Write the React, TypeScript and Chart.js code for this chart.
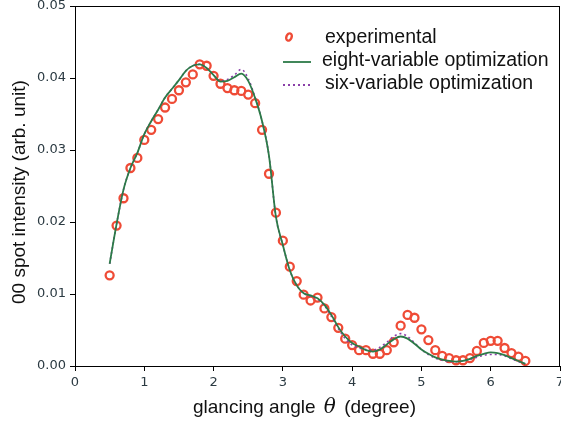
import React, { useEffect, useRef } from "react";
import { Chart, registerables } from "chart.js";

Chart.register(...registerables);

const theta = [
  0.5, 0.6, 0.7, 0.8, 0.9, 1.0, 1.1, 1.2, 1.3, 1.4, 1.5, 1.6, 1.7, 1.8, 1.9, 2.0,
  2.1, 2.2, 2.3, 2.4, 2.5, 2.6, 2.7, 2.8, 2.9, 3.0, 3.1, 3.2, 3.3, 3.4, 3.5, 3.6,
  3.7, 3.8, 3.9, 4.0, 4.1, 4.2, 4.3, 4.4, 4.5, 4.6, 4.7, 4.8, 4.9, 5.0, 5.1, 5.2,
  5.3, 5.4, 5.5, 5.6, 5.7, 5.8, 5.9, 6.0, 6.1, 6.2, 6.3, 6.4, 6.5,
];

const experimental = [
  0.0126, 0.0195, 0.0233, 0.0275, 0.0289, 0.0314, 0.0328, 0.0343, 0.0359, 0.0371,
  0.0383, 0.0394, 0.0405, 0.0419, 0.0417, 0.0403, 0.0392, 0.0386, 0.0383, 0.0382,
  0.0377, 0.0365, 0.0328, 0.0267, 0.0213, 0.0174, 0.0138, 0.0118, 0.0099, 0.0091,
  0.0095, 0.008, 0.0068, 0.0053, 0.0038, 0.0029, 0.0022, 0.0022, 0.0017, 0.0017,
  0.0022, 0.0033, 0.0056, 0.0071, 0.0067, 0.0051, 0.0036, 0.0022, 0.0014, 0.0011,
  0.0008, 0.0008, 0.0011, 0.0021, 0.0032, 0.0035, 0.0035, 0.0025, 0.0018, 0.0013,
  0.0007,
];

const eightVariable = [
  0.0142, 0.0197, 0.0245, 0.0275, 0.0296, 0.0322, 0.034, 0.0356, 0.0373, 0.0385,
  0.0397, 0.041, 0.0417, 0.0419, 0.0414, 0.0404, 0.0395, 0.0396, 0.0401, 0.0406,
  0.0396, 0.0372, 0.034, 0.0292, 0.0207, 0.0168, 0.0133, 0.0112, 0.0101, 0.0098,
  0.0094, 0.0085, 0.0071, 0.0054, 0.0041, 0.0032, 0.0027, 0.0022, 0.002, 0.0023,
  0.003, 0.0037, 0.0041, 0.0038, 0.0031, 0.0023, 0.0017, 0.0012, 0.0009, 0.0007,
  0.0006, 0.0007, 0.001, 0.0014, 0.0017, 0.0019, 0.0018, 0.0015, 0.0011, 0.0007,
  0.0003,
];

const sixVariable = [
  0.0142, 0.0197, 0.0245, 0.0275, 0.0296, 0.0322, 0.034, 0.0356, 0.0373, 0.0385,
  0.0397, 0.041, 0.0417, 0.0419, 0.0414, 0.0404, 0.0396, 0.0398, 0.0404, 0.0412,
  0.0399, 0.0373, 0.034, 0.0292, 0.0207, 0.0168, 0.0133, 0.0112, 0.0101, 0.0097,
  0.0093, 0.0084, 0.0069, 0.0052, 0.0038, 0.0029, 0.0025, 0.0023, 0.0022, 0.0026,
  0.0033, 0.0041, 0.0045, 0.0041, 0.0032, 0.0023, 0.0016, 0.0011, 0.0008, 0.0006,
  0.0006, 0.0007, 0.0009, 0.0012, 0.0015, 0.0016, 0.0016, 0.0014, 0.001, 0.0006,
  0.0003,
];

const xTickValues = [0, 1, 2, 3, 4, 5, 6, 7];
const yTickValues = [0, 0.01, 0.02, 0.03, 0.04, 0.05];

const legendLabels = ["experimental", "eight-variable optimization", "six-variable optimization"];
const xTitleParts = ["glancing angle ", "θ", " (degree)"];
const yTitle = "00 spot intensity (arb. unit)";

const RED = "#ef4b36";
const GREEN = "#2c7a48";
const PURPLE = "#8a3fa8";
const TICK_COLOR = "#2b3a42";
const SANS = "'Liberation Sans', Arial, Helvetica, sans-serif";

export default function App() {
  const ref = useRef<HTMLCanvasElement | null>(null);

  useEffect(() => {
    if (!ref.current) return;
    const toXY = (arr: number[]) => theta.map((t, i) => ({ x: t, y: arr[i] }));

    const framePlugin = {
      id: "frameAndText",
      afterDraw(chart: any) {
        const { ctx, chartArea } = chart;
        ctx.save();
        // legend box
        ctx.fillStyle = "#fff";
        ctx.fillRect(278, 24, 277, 76);
        ctx.strokeStyle = "#000";
        ctx.lineWidth = 1;
        ctx.strokeRect(chartArea.left + 0.5, chartArea.top + 0.5, chartArea.right - chartArea.left - 1, chartArea.bottom - chartArea.top);

        ctx.font = "19.5px " + SANS;
        ctx.textBaseline = "middle";
        ctx.textAlign = "left";
        // experimental marker
        ctx.beginPath();
        ctx.ellipse(289, 37, 2.6, 3.8, 0.4, 0, Math.PI * 2);
        ctx.strokeStyle = RED;
        ctx.lineWidth = 2.4;
        ctx.stroke();
        ctx.fillStyle = "#111";
        ctx.fillText(legendLabels[0], 325, 38);
        // eight-variable
        ctx.beginPath();
        ctx.moveTo(283, 62);
        ctx.lineTo(311, 62);
        ctx.strokeStyle = GREEN;
        ctx.lineWidth = 1.8;
        ctx.setLineDash([]);
        ctx.stroke();
        ctx.fillText(legendLabels[1], 322, 61);
        // six-variable
        ctx.beginPath();
        ctx.moveTo(283, 85);
        ctx.lineTo(311, 85);
        ctx.strokeStyle = PURPLE;
        ctx.lineWidth = 1.8;
        ctx.setLineDash([2, 3]);
        ctx.stroke();
        ctx.setLineDash([]);
        ctx.fillText(legendLabels[2], 325, 84);

        // x title with italic theta
        ctx.textBaseline = "alphabetic";
        ctx.fillStyle = "#111";
        const f1 = "19px " + SANS;
        const f2 = "italic 20px 'DejaVu Serif', 'Liberation Serif', serif";
        ctx.font = f1;
        const w0 = ctx.measureText(xTitleParts[0]).width;
        ctx.font = f2;
        const w1 = ctx.measureText(xTitleParts[1]).width;
        let x = 193;
        ctx.font = f1;
        ctx.fillText(xTitleParts[0], x, 413);
        x += w0 + 3;
        ctx.font = f2;
        ctx.fillText(xTitleParts[1], x, 413);
        x += w1 + 3;
        ctx.font = f1;
        ctx.fillText(xTitleParts[2], x, 413);

        // y title
        ctx.font = f1;
        ctx.textAlign = "left";
        ctx.translate(25, 304);
        ctx.rotate(-Math.PI / 2);
        ctx.fillText(yTitle, 0, 0);
        ctx.restore();
      },
    };

    const chart = new Chart(ref.current, {
      type: "scatter",
      data: {
        datasets: [
          {
            label: legendLabels[0],
            data: toXY(experimental),
            showLine: false,
            pointRadius: 4,
            pointBorderWidth: 2.3,
            pointBorderColor: RED,
            pointBackgroundColor: "rgba(0,0,0,0)",
            order: 3,
          },
          {
            label: legendLabels[1],
            data: toXY(eightVariable),
            showLine: true,
            pointRadius: 0,
            borderColor: GREEN,
            borderWidth: 1.8,
            cubicInterpolationMode: "monotone",
            order: 1,
          },
          {
            label: legendLabels[2],
            data: toXY(sixVariable),
            showLine: true,
            pointRadius: 0,
            borderColor: PURPLE,
            borderWidth: 1.6,
            borderDash: [2, 3],
            cubicInterpolationMode: "monotone",
            order: 2,
          },
        ],
      },
      options: {
        animation: false,
        responsive: false,
        maintainAspectRatio: false,
        layout: { autoPadding: false, padding: { top: 6, right: 1, left: 0, bottom: 0 } },
        plugins: {
          legend: { display: false },
          tooltip: { enabled: false },
        },
        scales: {
          x: {
            type: "linear",
            min: 0,
            max: 7,
            afterBuildTicks: (scale: any) => {
              scale.ticks = xTickValues.map((v) => ({ value: v }));
            },
            afterFit: (scale: any) => {
              scale.height = 57;
              scale.paddingLeft = 0;
              scale.paddingRight = 0;
            },
            ticks: {
              color: TICK_COLOR,
              font: { family: "'DejaVu Sans', sans-serif", size: 13 },
              padding: 4,
              autoSkip: false,
              maxRotation: 0,
              callback: (v: any) => String(v),
            },
            grid: { drawOnChartArea: false, drawTicks: true, tickLength: 5, color: "#000" },
            border: { color: "#000", width: 1 },
          },
          y: {
            type: "linear",
            min: 0,
            max: 0.05,
            afterBuildTicks: (scale: any) => {
              scale.ticks = yTickValues.map((v) => ({ value: v }));
            },
            afterFit: (scale: any) => {
              scale.width = 75;
              scale.paddingTop = 0;
              scale.paddingBottom = 0;
            },
            ticks: {
              color: TICK_COLOR,
              font: { family: "'DejaVu Sans', sans-serif", size: 13 },
              padding: 4,
              autoSkip: false,
              callback: (v: any) => Number(v).toFixed(2),
            },
            grid: { drawOnChartArea: false, drawTicks: true, tickLength: 5, color: "#000" },
            border: { color: "#000", width: 1 },
          },
        },
      },
      plugins: [framePlugin],
    } as any);
    return () => chart.destroy();
  }, []);

  return (
    <div style={{ position: "fixed", left: 0, top: 0, width: 561, height: 423, background: "#fff" }}>
      <canvas ref={ref} width={561} height={423} style={{ width: 561, height: 423 }} />
    </div>
  );
}
